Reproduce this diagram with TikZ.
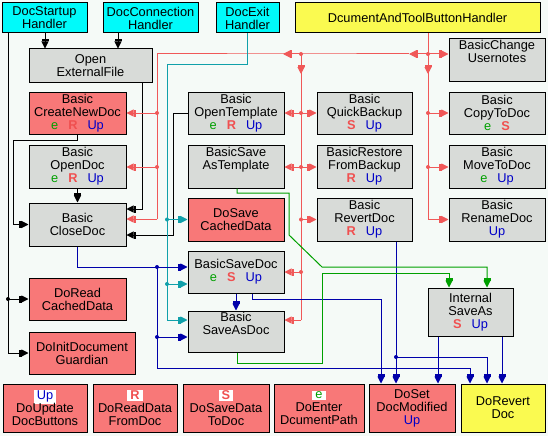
\documentclass[tikz,border=0pt]{standalone}
\usepackage{fontspec}
\setmainfont{Liberation Sans}
\usetikzlibrary{arrows.meta}
\definecolor{bgc}{RGB}{245,250,247}
\definecolor{cyanf}{RGB}{0,250,250}
\definecolor{yelf}{RGB}{250,250,80}
\definecolor{grayf}{RGB}{216,219,216}
\definecolor{salf}{RGB}{248,120,120}
\definecolor{redl}{RGB}{240,88,88}
\definecolor{teall}{RGB}{16,160,170}
\definecolor{bluel}{RGB}{0,0,170}
\definecolor{greenl}{RGB}{0,160,0}
\definecolor{txtg}{RGB}{0,160,0}
\definecolor{txtr}{RGB}{240,80,80}
\definecolor{txtb}{RGB}{0,0,200}
\newcommand{\Le}{\textcolor{txtg}{e}}
\newcommand{\LR}{\textcolor{txtr}{\textbf{R}}}
\newcommand{\LS}{\textcolor{txtr}{\textbf{S}}}
\newcommand{\LU}{\textcolor{txtb}{Up}}
\newcommand{\gap}{\hspace{10pt}}
\setlength{\fboxsep}{1pt}
\newcommand{\IU}{\colorbox{white}{\,\LU\,}}
\newcommand{\IR}{\colorbox{white}{\,\LR\,}}
\newcommand{\IS}{\colorbox{white}{\,\LS\,}}
\newcommand{\IE}{\colorbox{white}{\,\Le\,}}
\newcommand{\mybox}[7]{%
  \node[#2, minimum width={(#5)-(#3)}, minimum height={(#6)-(#4)}] (#1) at ({((#3)+(#5))/2},{((#4)+(#6))/2}) {#7};}
\begin{document}
\begin{tikzpicture}[x=1pt,y=-1pt,
  mytip/.tip={Bar[width=7pt,line width=2.2pt,sep=0pt] Triangle[width=7pt,length=7pt]},
  anybox/.style={draw=black, line width=1pt, inner sep=0pt, align=center, font=\fontsize{12.8}{13}\selectfont},
  cbox/.style={anybox, fill=cyanf},
  ybox/.style={anybox, fill=yelf},
  gbox/.style={anybox, fill=grayf},
  sbox/.style={anybox, fill=salf},
  conn/.style={line width=1pt},
  blk/.style={conn, draw=black},
  rl/.style={conn, draw=redl},
  tl/.style={conn, draw=teall},
  bl/.style={conn, draw=bluel},
  gl/.style={conn, draw=greenl},
  dot/.style={radius=2pt}
]
\fill[bgc] (0,0) rectangle (548,436);
\useasboundingbox (0,0) rectangle (548,436);

% nodes
\mybox{startup}{cbox}{2}{3}{87}{33}{DocStartup\\Handler}
\mybox{connh}{cbox}{103}{3}{198}{33}{DocConnection\\Handler}
\mybox{exit}{cbox}{216}{3}{279}{33}{DocExit\\Handler}
\mybox{dtbh}{ybox}{295}{3}{540}{33}{DcumentAndToolButtonHandler}
\mybox{openext}{gbox}{29}{49}{152}{82}{Open\\ExternalFile}
\mybox{chg}{gbox}{449}{39}{545}{81}{BasicChange\\Usernotes\\\strut}
\mybox{create}{sbox}{29}{92}{126}{134}{Basic\\CreateNewDoc\\\Le\gap\LR\gap\LU}
\mybox{opentpl}{gbox}{188}{92}{284}{134}{Basic\\OpenTemplate\\\Le\gap\LR\gap\LU}
\mybox{quick}{gbox}{317}{92}{412}{134}{Basic\\QuickBackup\\\LS\gap\LU}
\mybox{copy}{gbox}{449}{92}{545}{134}{Basic\\CopyToDoc\\\Le\gap\LS}
\mybox{opendoc}{gbox}{29}{145}{126}{188}{Basic\\OpenDoc\\\Le\gap\LR\gap\LU}
\mybox{saveastpl}{gbox}{188}{145}{284}{188}{BasicSave\\AsTemplate\\\strut}
\mybox{restore}{gbox}{317}{145}{412}{188}{BasicRestore\\FromBackup\\\LR\gap\LU}
\mybox{move}{gbox}{449}{145}{545}{188}{Basic\\MoveToDoc\\\Le\gap\LU}
\mybox{close}{gbox}{29}{203}{126}{246}{Basic\\CloseDoc}
\mybox{savecached}{sbox}{188}{198}{284}{241}{DoSave\\CachedData}
\mybox{revert}{gbox}{317}{198}{412}{241}{Basic\\RevertDoc\\\LR\gap\LU}
\mybox{rename}{gbox}{449}{198}{545}{241}{Basic\\RenameDoc\\\LU}
\mybox{savedoc}{gbox}{188}{251}{284}{293}{BasicSaveDoc\\\Le\gap\LS\gap\LU}
\mybox{readcached}{sbox}{29}{278}{126}{320}{DoRead\\CachedData}
\mybox{intsave}{gbox}{428}{288}{513}{336}{Internal\\SaveAs\\\LS\gap\LU}
\mybox{saveasdoc}{gbox}{188}{311}{284}{352}{Basic\\SaveAsDoc\\\strut}
\mybox{initguard}{sbox}{29}{332}{135}{374}{DoInitDocument\\Guardian}
\mybox{upd}{sbox}{3}{384}{87}{432}{\IU\\DoUpdate\\DocButtons}
\mybox{readdata}{sbox}{93}{384}{177}{432}{\IR\\DoReadData\\FromDoc}
\mybox{savedata}{sbox}{183}{384}{269}{432}{\IS\\DoSaveData\\ToDoc}
\mybox{enter}{sbox}{274}{384}{364}{432}{\IE\\DoEnter\\DcumentPath}
\mybox{setmod}{sbox}{369}{384}{455}{432}{DoSet\\DocModified\\\LU}
\mybox{revdoc}{ybox}{461}{384}{545}{432}{DoRevert\\Doc}

% black connectors
\draw[blk,-{mytip}] (startup.south -| 45,0) -- (openext.north -| 45,0);
\draw[blk,-{mytip}] (connh.south -| 118,0) -- (openext.north -| 118,0);
\coordinate (k1) at (8,299);
\draw[blk,-{mytip}] (startup.south -| k1) |- (initguard.west);
\draw[blk,-{mytip}] (k1) -- (readcached.west |- k1);
\fill (k1) circle[dot];
\coordinate (k3) at (142,209);
\draw[blk,-{mytip}] (openext.south -| k3) -- (k3) -- (close.east |- k3);
\coordinate (k4) at (77.5,140);
\coordinate (k5) at (13,140);
\coordinate (k6) at (13,224.5);
\draw[blk,-{mytip}] (create.south) -- (k4) -- (k5) -- (k6) -- (close.west);
\draw[blk,-{mytip}] (opendoc.south) -- (close.north);
\coordinate (k7) at (173,113);
\coordinate (k8) at (173,235);
\draw[blk,-{mytip}] (opentpl.west) -- (k7) -- (k8) -- (close.east |- k8);

% red connectors
\coordinate (rA) at (428,54);
\coordinate (rA2) at (428,113);
\coordinate (rA3) at (428,167);
\coordinate (rAe) at (428,219.5);
\coordinate (rAl) at (409,54);
\coordinate (rAd) at (428,74);
\coordinate (rB) at (301,54);
\coordinate (rBl) at (283,54);
\coordinate (rBd) at (301,74);
\coordinate (rB1) at (301,113);
\coordinate (rB2) at (301,167);
\coordinate (rB3) at (301,219.5);
\coordinate (rB4) at (301,272);
\coordinate (rBe) at (301,320);
\coordinate (rC) at (157,54);
\coordinate (rC1) at (157,113);
\coordinate (rC2) at (157,167);
\coordinate (rCe) at (157,219);
\draw[rl] (dtbh.south -| rA) -- (rAe);
\draw[rl,-{mytip}] (rAe) -- (rename.west |- rAe);
\draw[rl,-{mytip}] (rA) -- (chg.west |- rA);
\draw[rl,-{mytip}] (rA2) -- (copy.west |- rA2);
\draw[rl,-{mytip}] (rA3) -- (move.west |- rA3);
\draw[rl,-{mytip}] (rA) -- (rAd);
\draw[rl,-{mytip}] (rA) -- (rAl);
\draw[rl] (rAl) -- (rB) -- (rC) -- (rCe);
\draw[rl,-{mytip}] (rCe) -- (close.east |- rCe);
\draw[rl,-{mytip}] (rC1) -- (create.east |- rC1);
\draw[rl,-{mytip}] (rC2) -- (opendoc.east |- rC2);
\draw[rl] (rB) -- (rBe);
\draw[rl,-{mytip}] (rBe) -- (saveasdoc.east |- rBe);
\draw[rl,-{mytip}] (rB) -- (rBd);
\draw[rl,-{mytip}] (rB) -- (rBl);
\draw[rl,-{mytip}] (rB1) -- (opentpl.east |- rB1);
\draw[rl,-{mytip}] (rB1) -- (quick.west |- rB1);
\draw[rl,-{mytip}] (rB2) -- (saveastpl.east |- rB2);
\draw[rl,-{mytip}] (rB2) -- (restore.west |- rB2);
\draw[rl,-{mytip}] (rB3) -- (revert.west |- rB3);
\draw[rl,-{mytip}] (rB4) -- (savedoc.east |- rB4);
\foreach \p in {rA,rA2,rA3,rB,rB1,rB2,rB3,rB4,rC1,rC2} \fill[redl] (\p) circle[dot];

% teal connectors
\coordinate (t2) at (167,64);
\coordinate (tj1) at (167,219.5);
\coordinate (tj2) at (167,284);
\coordinate (te) at (167,320);
\draw[tl] (exit.south) |- (t2) -- (te);
\draw[tl,-{mytip}] (te) -- (saveasdoc.west |- te);
\draw[tl,-{mytip}] (tj1) -- (savecached.west |- tj1);
\draw[tl,-{mytip}] (tj2) -- (savedoc.west |- tj2);
\foreach \p in {tj1,tj2} \fill[teall] (\p) circle[dot];

% blue connectors
\coordinate (b1) at (77.5,267);
\coordinate (bj1) at (157,267);
\coordinate (bj2) at (157,337);
\coordinate (b3) at (157,368);
\coordinate (b4) at (470,368);
\draw[bl,-{mytip}] (close.south) -- (b1) -- (savedoc.west |- b1);
\draw[bl,-{mytip}] (bj1) -- (b3) -- (b4) -- (b4 |- revdoc.north);
\draw[bl,-{mytip}] (bj2) -- (saveasdoc.west |- bj2);
\draw[bl,-{mytip}] (savedoc.south) -- (saveasdoc.north);
\coordinate (b5) at (252,299);
\coordinate (b6) at (381,299);
\draw[bl,-{mytip}] (savedoc.south -| b5) -- (b5) -- (b6) -- (b6 |- setmod.north);
\coordinate (bj3) at (396,357);
\coordinate (b7) at (487,357);
\draw[bl,-{mytip}] (revert.south -| bj3) -- (bj3 |- setmod.north);
\draw[bl,-{mytip}] (bj3) -- (b7) -- (b7 |- revdoc.north);
\draw[bl,-{mytip}] (intsave.south -| 438,0) -- (setmod.north -| 438,0);
\draw[bl,-{mytip}] (intsave.south -| 502,0) -- (revdoc.north -| 502,0);
\foreach \p in {bj1,bj2,bj3} \fill[bluel] (\p) circle[dot];

% green connectors
\coordinate (g1) at (237,193);
\coordinate (g2) at (289,193);
\coordinate (g3) at (289,235);
\coordinate (g4) at (322,267);
\coordinate (g5) at (487,267);
\draw[gl,-{mytip}] (saveastpl.south -| g1) -- (g1) -- (g2) -- (g3) -- (g4) -- (g5) -- (g5 |- intsave.north);
\coordinate (h1) at (237,363);
\coordinate (h2) at (322,363);
\coordinate (h3) at (322,273);
\coordinate (h4) at (449,273);
\draw[gl,-{mytip}] (saveasdoc.south -| h1) -- (h1) -- (h2) -- (h3) -- (h4) -- (h4 |- intsave.north);
\end{tikzpicture}
\end{document}
